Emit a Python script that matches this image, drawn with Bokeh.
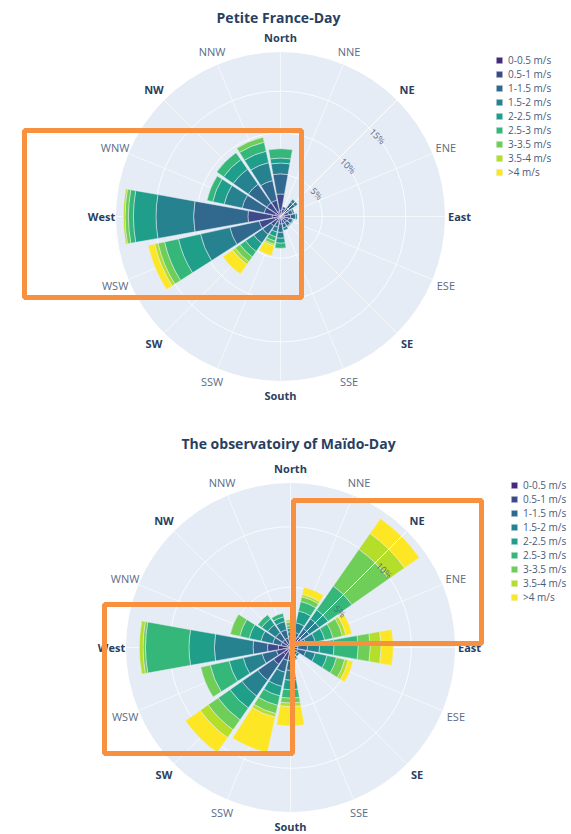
import numpy as np
from bokeh.plotting import figure
from bokeh.layouts import column
from bokeh.models import Range1d, Legend, LegendItem, BoxAnnotation, ColumnDataSource
from bokeh.core.properties import value
from bokeh.embed import file_html
from bokeh.resources import INLINE

# ---------------- data ----------------
directions = ["North", "NNE", "NE", "ENE", "East", "ESE", "SE", "SSE",
              "South", "SSW", "SW", "WSW", "West", "WNW", "NW", "NNW"]
bearings = [0, 22.5, 45, 67.5, 90, 112.5, 135, 157.5,
            180, 202.5, 225, 247.5, 270, 292.5, 315, 337.5]
major_dirs = ["North", "NE", "East", "SE", "South", "SW", "West", "NW"]
speed_bins = ["0-0.5 m/s", "0.5-1 m/s", "1-1.5 m/s", "1.5-2 m/s", "2-2.5 m/s",
              "2.5-3 m/s", "3-3.5 m/s", "3.5-4 m/s", ">4 m/s"]
bin_colors = ["#482878", "#3e4989", "#31688e", "#26828e", "#1f9e89",
              "#35b779", "#6ece58", "#b5de2b", "#fde725"]

# Petite France - Day  (frequency %, per speed bin, directions N..NNW)
pf_0 = [0.7, 0.4, 0.5, 0.4, 0.5, 0.4, 0.4, 0.4, 0.2, 0.2, 0.4, 0.7, 1.0, 0.6, 0.6, 0.6]
pf_1 = [2.0, 0.5, 0.8, 0.6, 0.7, 0.6, 0.5, 0.5, 0.7, 0.5, 1.0, 1.9, 2.9, 1.4, 1.4, 1.4]
pf_2 = [2.4, 0.3, 0.8, 0.5, 0.6, 0.5, 0.5, 0.5, 1.0, 0.6, 1.2, 3.6, 6.5, 2.7, 2.7, 2.4]
pf_3 = [1.3, 0.0, 0.4, 0.2, 0.2, 0.1, 0.1, 0.3, 0.7, 0.6, 1.3, 3.6, 4.5, 2.2, 2.2, 2.2]
pf_4 = [0.6, 0.0, 0.0, 0.0, 0.0, 0.0, 0.0, 0.0, 0.6, 0.6, 1.2, 2.7, 2.7, 1.4, 1.4, 1.4]
pf_5 = [1.1, 0.0, 0.0, 0.0, 0.0, 0.0, 0.0, 0.0, 0.6, 0.5, 0.8, 1.7, 0.6, 0.7, 1.0, 1.1]
pf_6 = [0.0, 0.0, 0.0, 0.0, 0.0, 0.0, 0.0, 0.0, 0.0, 0.4, 0.7, 0.8, 0.4, 0.0, 0.0, 0.6]
pf_7 = [0.0, 0.0, 0.0, 0.0, 0.0, 0.0, 0.0, 0.0, 0.0, 0.2, 0.4, 0.4, 0.2, 0.0, 0.0, 0.0]
pf_8 = [0.0, 0.0, 0.0, 0.0, 0.0, 0.0, 0.0, 0.0, 0.0, 1.2, 1.4, 0.8, 0.0, 0.0, 0.0, 0.0]

# Observatory of Maido - Day
md_0 = [0.2, 0.2, 0.4, 0.2, 0.2, 0.2, 0.2, 0.2, 0.4, 0.4, 0.7, 0.4, 1.0, 0.3, 0.3, 0.3]
md_1 = [0.3, 0.4, 0.7, 0.4, 0.4, 0.4, 0.3, 0.3, 0.7, 0.7, 1.0, 0.8, 0.9, 0.5, 0.5, 0.5]
md_2 = [0.4, 0.7, 0.8, 0.7, 0.8, 0.7, 0.2, 0.3, 0.8, 1.0, 1.6, 1.2, 1.2, 0.7, 0.7, 0.7]
md_3 = [0.4, 0.8, 1.0, 0.8, 1.0, 0.8, 0.2, 0.2, 0.8, 1.2, 1.6, 1.6, 3.2, 1.0, 0.8, 0.7]
md_4 = [0.3, 1.0, 0.9, 0.8, 1.2, 1.0, 0.0, 0.1, 0.8, 0.8, 1.2, 1.2, 2.1, 1.0, 0.6, 0.4]
md_5 = [0.2, 0.8, 2.4, 0.7, 2.0, 0.8, 0.0, 0.0, 0.7, 0.8, 1.2, 1.6, 3.6, 0.8, 0.4, 0.3]
md_6 = [0.3, 0.4, 3.7, 0.8, 1.0, 0.7, 0.0, 0.0, 0.4, 0.7, 1.0, 0.8, 0.2, 0.8, 0.0, 0.0]
md_7 = [0.2, 0.2, 1.6, 0.3, 0.9, 0.3, 0.0, 0.0, 0.3, 0.3, 0.8, 0.0, 0.3, 0.0, 0.0, 0.0]
md_8 = [0.0, 0.6, 1.5, 0.5, 1.0, 0.4, 0.0, 0.0, 1.6, 3.0, 1.5, 0.0, 0.0, 0.0, 0.0, 0.0]

petite_france = [pf_0, pf_1, pf_2, pf_3, pf_4, pf_5, pf_6, pf_7, pf_8]
maido = [md_0, md_1, md_2, md_3, md_4, md_5, md_6, md_7, md_8]

FONT = value("Open Sans")
TITLE_COLOR = "#2a3f5f"
ORANGE = "#F7913F"


def make_rose(title, series, W, H, cx, cy, title_xy, legend_loc, boxes,
              R=165.0, tick_step=5.0):
    series = np.array(series, dtype=float)
    totals = series.sum(axis=0)
    rmax = 1.05 * totals.max()
    s = R / rmax  # pixels per percent

    p = figure(width=W, height=H,
               x_range=Range1d(-cx / s, (W - cx) / s),
               y_range=Range1d(-(H - cy) / s, cy / s),
               output_backend="svg", toolbar_location=None,
               x_axis_type=None, y_axis_type=None, min_border=0,
               outline_line_color=None, background_fill_color="white",
               border_fill_color="white")
    p.grid.visible = False

    def to_data(px, py):
        return (px - cx) / s, (cy - py) / s

    theta = np.radians(90.0 - np.array(bearings))

    # polar background + grid
    p.circle(x=[0], y=[0], radius=[rmax], fill_color="#E5ECF6",
             line_color="white", line_width=1)
    ticks = np.arange(tick_step, rmax, tick_step)
    p.circle(x=np.zeros(len(ticks)), y=np.zeros(len(ticks)), radius=ticks,
             fill_color=None, line_color="white", line_width=1, line_alpha=0.8)
    p.segment(x0=np.zeros(16), y0=np.zeros(16),
              x1=rmax * np.cos(theta), y1=rmax * np.sin(theta),
              line_color="white", line_width=1, line_alpha=0.6)

    # stacked bars
    half = np.radians(22.5 * 0.9 / 2)
    base = np.zeros(16)
    items = []
    for vals, lab, col in zip(series, speed_bins, bin_colors):
        top = base + vals
        m = vals > 0
        src = ColumnDataSource(dict(inner=base[m], outer=top[m],
                                    start=theta[m] - half, end=theta[m] + half))
        r = p.annular_wedge(x=0, y=0, inner_radius="inner", outer_radius="outer",
                            start_angle="start", end_angle="end", source=src,
                            fill_color=col, line_color="#E5ECF6", line_width=0.5)
        items.append(LegendItem(label=lab, renderers=[r]))
        base = top

    # radial axis line (above traces) at 45 degrees
    a45 = np.radians(45)
    p.segment(x0=[0], y0=[0], x1=[rmax * np.cos(a45)], y1=[rmax * np.sin(a45)],
              line_color="white", line_width=1)
    perp = np.radians(-45)
    off = 3.0 / s
    p.text(x=ticks * np.cos(a45) + off * np.cos(perp),
           y=ticks * np.sin(a45) + off * np.sin(perp),
           text=[f"{t:g}%" for t in ticks], angle=perp,
           text_align="left", text_baseline="middle",
           text_font=FONT, text_font_size="9px", text_color="#506784")

    # direction labels
    lr = (R + 14.0) / s
    maj = np.array([d in major_dirs for d in directions])
    dirs = np.array(directions)
    p.text(x=lr * np.cos(theta[maj]), y=lr * np.sin(theta[maj]), text=list(dirs[maj]),
           text_align="center", text_baseline="middle", text_font=FONT,
           text_font_size="11px", text_font_style="bold", text_color=TITLE_COLOR)
    p.text(x=lr * np.cos(theta[~maj]), y=lr * np.sin(theta[~maj]), text=list(dirs[~maj]),
           text_align="center", text_baseline="middle", text_font=FONT,
           text_font_size="11px", text_color="#5a6b85")

    # title
    tx, ty = to_data(*title_xy)
    p.text(x=[tx], y=[ty], text=[title], text_align="center", text_baseline="middle",
           text_font=FONT, text_font_size="14px", text_font_style="bold",
           text_color=TITLE_COLOR)

    legend = Legend(items=items, location=legend_loc, orientation="vertical",
                    glyph_width=8, glyph_height=8, label_height=14, spacing=0,
                    padding=0, margin=0, label_standoff=5,
                    label_text_font="Open Sans", label_text_font_size="10px",
                    label_text_color="#4a5a78", border_line_color=None,
                    background_fill_alpha=0)
    p.add_layout(legend)

    for (l, t, r_, b) in boxes:
        x0, y0 = to_data(l, t)
        x1, y1 = to_data(r_, b)
        p.add_layout(BoxAnnotation(left=x0, right=x1, top=y0, bottom=y1,
                                   fill_color=None, fill_alpha=0,
                                   line_color=ORANGE, line_alpha=1.0,
                                   line_width=5))
    return p


W = 571
H1 = 416
H2 = 418
p1 = make_rose("Petite France-Day", petite_france, W, H1, 280, 216,
               title_xy=(278, 17), legend_loc=(495, 237),
               boxes=[(24, 130, 301, 297)])
p2 = make_rose("The observatoiry of Maïdo-Day", maido, W, H2, 290, 231,
               title_xy=(288, 27), legend_loc=(510, 230),
               boxes=[(293, 84, 481, 227), (104, 188, 292, 337)])

layout = column(p1, p2, spacing=0)
open("out.html", "w").write(file_html(layout, INLINE))
